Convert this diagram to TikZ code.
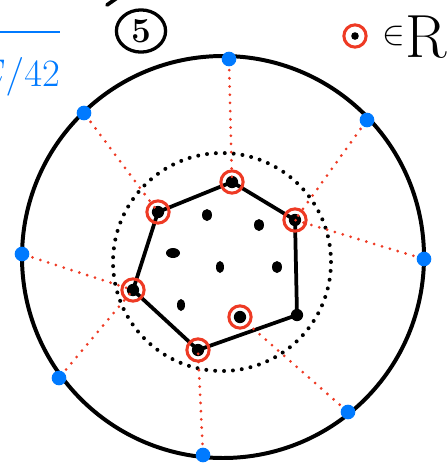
\RequirePackage{fix-cm}
\documentclass[tikz,border=0pt]{standalone}
\usepackage{amssymb}
\definecolor{penblue}{RGB}{0,122,255}
\definecolor{penred}{RGB}{238,58,36}
\usetikzlibrary{positioning,shapes.geometric}

\begin{document}
\begin{tikzpicture}[x=0.03cm, y=-0.03cm,
  rim/.style={line width=3.4pt},
  hexedge/.style={line width=3.2pt, line join=round},
  blackdots/.style={line width=3.4pt, line cap=round, dash pattern=on 0pt off 7.6pt},
  reddots/.style={penred, line width=2.6pt, line cap=round, dash pattern=on 0pt off 7pt},
  bluept/.style={circle, fill=penblue, inner sep=0pt, minimum size=12.5pt},
  blackpt/.style={circle, fill=black, inner sep=0pt, minimum size=10.5pt},
  ring/.style={circle, draw=penred, line width=2.6pt, inner sep=0pt, minimum size=19pt}]
  \clip (0,0) rectangle (448,463);

  % outer circle and points on it
  \draw[rim] (223,257) circle (201);
  \node[bluept] (b1) at (229,59) {};
  \node[bluept] (b2) at (367,120) {};
  \node[bluept] (b3) at (424,259) {};
  \node[bluept] (b4) at (348,412) {};
  \node[bluept] (b5) at (203,455) {};
  \node[bluept] (b6) at (59,378) {};
  \node[bluept] (b7) at (22,254) {};
  \node[bluept] (b8) at (84,113) {};

  % inner dotted circle
  \draw[blackdots] (222,262) circle (109);

  % hexagon
  \coordinate (v1) at (232,182);
  \coordinate (v2) at (295,220);
  \coordinate (v3) at (297,315);
  \coordinate (v4) at (198,350);
  \coordinate (v5) at (133,290);
  \coordinate (v6) at (158,212);
  \coordinate (q) at (240,317);
  \draw[hexedge] (v1) -- (v2) -- (v3) -- (v4) -- (v5) -- (v6) -- cycle;
  \foreach \p in {v1,v2,v3,v4,v5,v6,q}
    \node[blackpt] at (\p) {};
  \foreach \x/\y/\rx/\ry in {207/215/5/6, 259/225/5/6, 173/253/7/5, 220/267/4/6, 277/267/5/6, 181/305/4/6}
    \fill (\x,\y) ellipse (\rx{} and \ry);

  % red rings
  \node[ring] (r1) at (v1) {};
  \node[ring] (r2) at (v2) {};
  \node[ring] (r4) at (v4) {};
  \node[ring] (r5) at (v5) {};
  \node[ring] (r6) at (v6) {};
  \node[ring] (rq) at (q) {};

  % red dotted links
  \draw[reddots, shorten <=3pt] (b1) -- (v1);
  \draw[reddots, shorten <=3pt] (b2) -- (v2);
  \draw[reddots, shorten <=3pt] (b3) -- (v2);
  \draw[reddots, shorten <=3pt] (b4) -- (rq);
  \draw[reddots, shorten <=3pt] (b5) -- (v4);
  \draw[reddots, shorten <=3pt] (b6) -- (v5);
  \draw[reddots, shorten <=3pt] (b7) -- (v5);
  \draw[reddots, shorten <=3pt] (b8) -- (v6);

  % labels
  \node[ellipse, draw, line width=2.8pt, minimum width=42pt, minimum height=36pt,
        inner sep=0pt, font=\fontsize{30}{30}\selectfont\bfseries] (five) at (141,31) {5};
  \draw[line width=3.2pt, line cap=round] (107,5) -- (117,-2);
  \node[ring] (key) at (355,36) {};
  \node[circle, fill=black, inner sep=0pt, minimum size=6.5pt] at (key) {};
  \node[font=\fontsize{29}{29}\selectfont, inner sep=0pt, anchor=west] (member) at (382,36) {$\in$};
  \node[font=\fontsize{52}{52}\selectfont, inner sep=0pt, anchor=base west] (reals) at (405,57) {R};
  \node[penblue, anchor=base east, inner sep=0pt, font=\fontsize{33}{33}\selectfont] (scale) at (60,86)
    {$\overline{\rule{0pt}{1.25em}E/42}$};
\end{tikzpicture}
\end{document}
